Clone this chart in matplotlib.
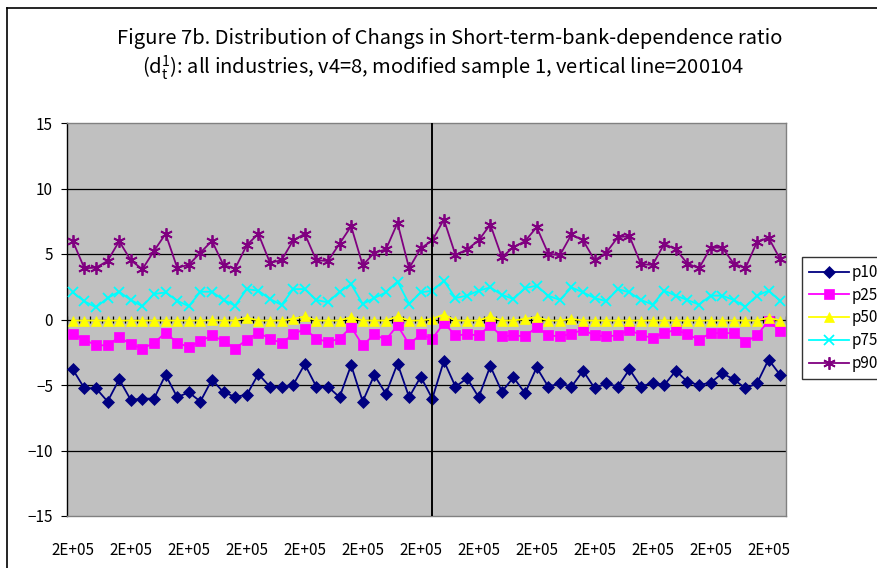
import numpy as np
import matplotlib
matplotlib.use("Agg")
import matplotlib.pyplot as plt
from matplotlib.lines import Line2D

plt.rcParams['font.family'] = ['Noto Sans CJK JP', 'DejaVu Sans']
plt.rcParams['mathtext.fontset'] = 'custom'
plt.rcParams['mathtext.rm'] = 'Noto Sans CJK JP'
plt.rcParams['mathtext.it'] = 'Noto Sans CJK JP'

# monthly date codes (category axis)
dates = [199809, 199810, 199811, 199812,
         199901, 199902, 199903, 199904, 199905, 199906, 199907, 199908, 199909, 199910, 199911, 199912,
         200001, 200002, 200003, 200004, 200005, 200006, 200007, 200008, 200009, 200010, 200011, 200012,
         200101, 200102, 200103, 200104, 200105, 200106, 200107, 200108, 200109, 200110, 200111, 200112,
         200201, 200202, 200203, 200204, 200205, 200206, 200207, 200208, 200209, 200210, 200211, 200212,
         200301, 200302, 200303, 200304, 200305, 200306, 200307, 200308, 200309, 200310]
vline_date = 200104

p10 = [-3.81, -5.25, -5.25, -6.26, -4.57, -6.14, -6.04, -6.04, -4.22, -5.93,
       -5.56, -6.26, -4.59, -5.56, -5.90, -5.75, -4.17, -5.13, -5.13, -5.00,
       -3.41, -5.13, -5.13, -5.93, -3.48, -6.26, -4.24, -5.68, -3.36, -5.93,
       -4.37, -6.04, -3.16, -5.13, -4.49, -5.93, -3.56, -5.51, -4.42, -5.63,
       -3.66, -5.13, -4.87, -5.13, -3.91, -5.25, -4.87, -5.13, -3.81, -5.13,
       -4.82, -5.00, -3.91, -4.75, -5.00, -4.82, -4.11, -4.57, -5.25, -4.87,
       -3.06, -4.24]
p25 = [-1.09, -1.54, -1.97, -1.97, -1.34, -1.89, -2.22, -1.79, -1.01, -1.77,
       -2.10, -1.67, -1.21, -1.64, -2.22, -1.54, -1.01, -1.46, -1.79, -1.14,
       -0.71, -1.46, -1.72, -1.46, -0.58, -1.97, -1.14, -1.54, -0.45, -1.89,
       -1.14, -1.46, -0.28, -1.21, -1.14, -1.21, -0.45, -1.29, -1.21, -1.29,
       -0.58, -1.21, -1.29, -1.09, -0.78, -1.21, -1.29, -1.21, -0.78, -1.21,
       -1.39, -1.04, -0.78, -1.14, -1.54, -1.04, -1.04, -1.04, -1.72, -1.21,
       -0.08, -0.88]
p50 = [-0.08, -0.08, -0.08, -0.08, -0.08, -0.08, -0.08, -0.08, -0.08, -0.08,
       -0.08, -0.08, -0.05, -0.08, -0.08, 0.15, -0.08, -0.08, -0.08, 0.05,
       0.23, -0.08, -0.08, -0.08, 0.18, -0.08, -0.08, -0.08, 0.23, -0.08,
       -0.08, 0.05, 0.38, -0.08, -0.08, -0.08, 0.23, -0.08, -0.08, 0.05,
       0.18, -0.08, -0.08, 0.05, -0.08, -0.08, -0.08, -0.08, -0.08, -0.08,
       -0.08, -0.08, -0.08, -0.08, -0.08, -0.08, -0.08, -0.08, -0.08, -0.08,
       0.13, -0.08]
p75 = [2.07, 1.39, 0.93, 1.64, 2.12, 1.49, 1.01, 1.94, 2.07, 1.44,
       1.01, 2.12, 2.12, 1.49, 1.06, 2.32, 2.20, 1.57, 1.11, 2.32,
       2.32, 1.49, 1.31, 2.12, 2.70, 1.19, 1.64, 2.07, 2.90, 1.19,
       2.07, 2.20, 2.95, 1.64, 1.82, 2.20, 2.45, 1.88, 1.57, 2.40,
       2.58, 1.82, 1.49, 2.45, 2.07, 1.64, 1.39, 2.32, 2.07, 1.49,
       1.14, 2.20, 1.82, 1.49, 1.14, 1.82, 1.82, 1.49, 0.98, 1.82,
       2.20, 1.44]
p90 = [5.98, 3.91, 3.96, 4.47, 5.98, 4.52, 3.84, 5.23, 6.54, 3.96,
       4.17, 5.10, 6.00, 4.14, 3.89, 5.68, 6.54, 4.34, 4.52, 6.04,
       6.54, 4.52, 4.47, 5.78, 7.12, 4.14, 5.10, 5.35, 7.37, 3.91,
       5.43, 6.04, 7.63, 4.92, 5.35, 6.04, 7.25, 4.75, 5.53, 5.98,
       7.05, 5.03, 4.90, 6.49, 6.04, 4.52, 5.10, 6.29, 6.36, 4.22,
       4.17, 5.78, 5.35, 4.27, 3.91, 5.48, 5.48, 4.27, 3.91, 5.93,
       6.24, 4.60]

series = [("p10", p10, "#000080", "D", 6),
          ("p25", p25, "#FF00FF", "s", 6.5),
          ("p50", p50, "#FFFF00", "^", 7.5),
          ("p75", p75, "#00FFFF", "x", 7),
          ("p90", p90, "#800080", (6, 2, 0), 9)]

fig = plt.figure(figsize=(8.78, 5.68), dpi=100)
ax = fig.add_axes([67/878, 1-516/568, 719/878, 393/568])
ax.set_facecolor("#C0C0C0")

x = np.arange(len(dates))
n = len(dates)

for yv in [-10, -5, 5, 10]:
    ax.axhline(yv, color="black", lw=0.9, zorder=1)
ax.axhline(0, color="black", lw=0.9, zorder=1)
ax.vlines(np.arange(n + 1) - 0.5, -0.3, 0.3, color="black", lw=0.9, zorder=1)

for name, vals, col, mk, ms in series:
    ax.plot(x, vals, color=col, marker=mk, markersize=ms, lw=1.3,
            markeredgewidth=1.3 if mk in ("x", (6, 2, 0)) else 0.5,
            markeredgecolor=col, label=name, zorder=3)

ax.axvline(dates.index(vline_date), color="black", lw=1.4, zorder=4)

ax.set_xlim(-0.5, n - 0.5)
ax.set_ylim(-15, 15)
ax.set_yticks([-15, -10, -5, 0, 5, 10, 15])
ax.set_yticklabels(["\u221215", "\u221210", "\u22125", "0", "5", "10", "15"])
ticks = x[::5]
ax.set_xticks(ticks)
ax.set_xticklabels([format(dates[i], ".0E") for i in ticks])
ax.tick_params(axis="x", length=0, pad=19, labelsize=11)
ax.tick_params(axis="y", length=4, direction="out", labelsize=11, pad=6)

for s in ["top", "right", "bottom"]:
    ax.spines[s].set_color("#808080")
    ax.spines[s].set_linewidth(1.0)
ax.spines["left"].set_color("black")
ax.spines["left"].set_linewidth(1.0)

fig.text(0.512, 0.932, "Figure 7b. Distribution of Changs in Short-term-bank-dependence ratio",
         ha="center", va="center", fontsize=14.5)
fig.text(0.505, 0.880, r"(d$^{1}_{t}$): all industries, v4=8, modified sample 1, vertical line=200104",
         ha="center", va="center", fontsize=14.5)

# outer chart frame
fig.add_artist(Line2D([7/878, 7/878], [0, 1 - 8/568], color="black", lw=1.2))
fig.add_artist(Line2D([7/878, 1], [1 - 8/568, 1 - 8/568], color="black", lw=1.2))

leg = fig.legend(loc="upper left", bbox_to_anchor=(802/878, 1 - 257/568), borderaxespad=0,
                 frameon=True, fancybox=False, edgecolor="black", fontsize=11,
                 handlelength=2.6, labelspacing=0.38, borderpad=0.45, handletextpad=0.2)
leg.get_frame().set_linewidth(1.0)

fig.savefig("out.png", dpi=100)
